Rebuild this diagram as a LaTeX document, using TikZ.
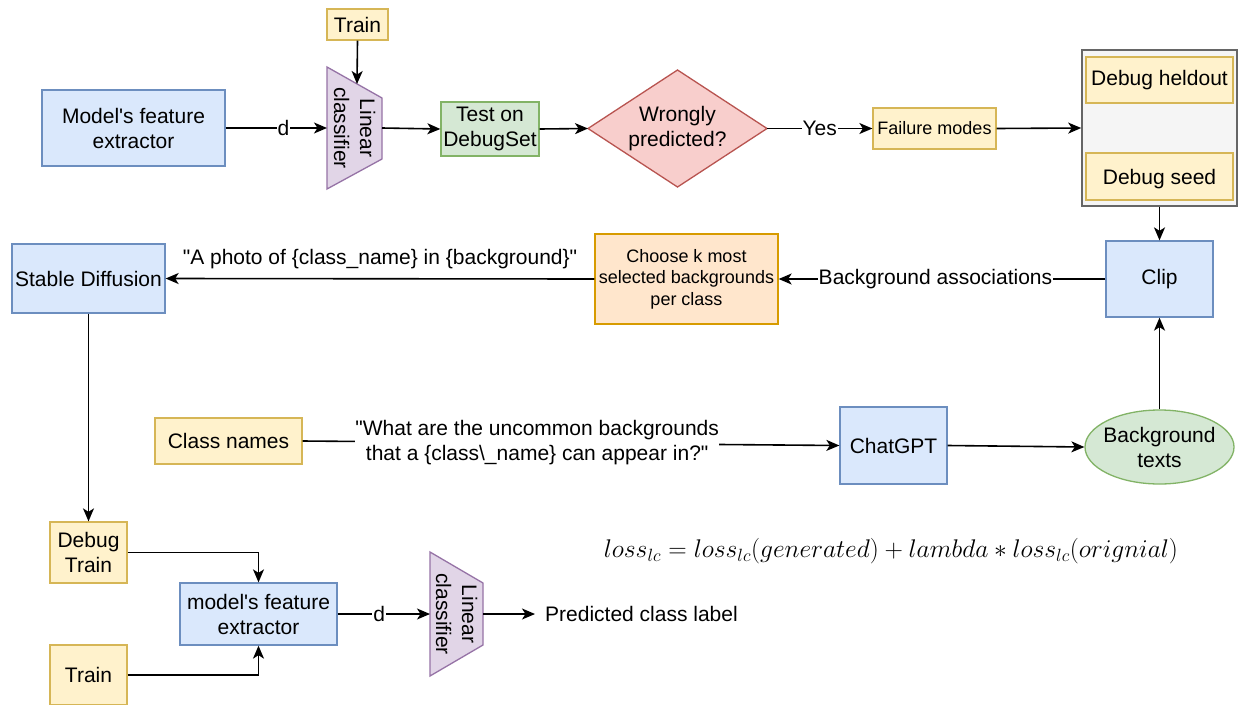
\documentclass[tikz,border=0pt]{standalone}
\usepackage{fontspec}
\setmainfont{Liberation Sans}[Ligatures=TeXOff]
\usepackage{graphicx}
\usetikzlibrary{arrows.meta,shapes.geometric}
\definecolor{bluef}{HTML}{DAE8FC}\definecolor{bluel}{HTML}{6C8EBF}
\definecolor{yelf}{HTML}{FFF2CC}\definecolor{yell}{HTML}{D6B656}
\definecolor{grnf}{HTML}{D5E8D4}\definecolor{grnl}{HTML}{82B366}
\definecolor{redf}{HTML}{F8CECC}\definecolor{redl}{HTML}{B85450}
\definecolor{purf}{HTML}{E1D5E7}\definecolor{purl}{HTML}{9673A6}
\definecolor{orf}{HTML}{FFE6CC}\definecolor{orl}{HTML}{D79B00}
\definecolor{grayf}{HTML}{F5F5F5}\definecolor{grayl}{HTML}{666666}
\begin{document}
\begin{tikzpicture}[x=1pt,y=-1pt,
 every node/.style={font=\fontsize{21}{25}\selectfont, inner sep=0pt, text=black},
 box/.style={draw, line width=1.3pt, align=center},
 bluebox/.style={box, fill=bluef, draw=bluel},
 yelbox/.style={box, fill=yelf, draw=yell},
 grnbox/.style={box, fill=grnf, draw=grnl},
 orbox/.style={box, fill=orf, draw=orl},
 graybox/.style={box, fill=grayf, draw=grayl, line width=1.6pt},
 redshape/.style={fill=redf, draw=redl, line width=1.3pt},
 purshape/.style={fill=purf, draw=purl, line width=1.3pt},
 small/.style={font=\fontsize{18}{21.5}\selectfont},
 conn/.style={line width=1.6pt, -{Stealth[length=13pt,width=11pt,inset=3.5pt]}},
 plain/.style={line width=1.6pt},
 lbl/.style={fill=white, inner sep=1pt}
]
\useasboundingbox (0,0) rectangle (1238,704);
\fill[white] (0,0) rectangle (1238,704);

% ---- top row ----
\node[bluebox, minimum width=183pt, minimum height=76pt] (fe1) at (133.5,128) {Model's feature\\extractor};
\node[yelbox, minimum width=61pt, minimum height=31pt] (train1) at (357.5,24.5) {Train};
\draw[purshape] (327,67) -- (382,98) -- (382,159) -- (327,189) -- cycle;
\node[rotate=-90, align=center, font=\fontsize{21}{26}\selectfont] (lc1) at (354.5,128) {Linear\\classifier};
\coordinate (lc1w) at (327,128);
\coordinate (lc1e) at (382,128);
\coordinate (lc1t) at (357,84);
\node[grnbox, minimum width=98pt, minimum height=54pt] (test) at (490,129) {Test on\\DebugSet};
\draw[redshape] (588,128.5) -- (677.5,70) -- (767,128.5) -- (677.5,187) -- cycle;
\node[align=center] (wrong) at (677.5,128.5) {Wrongly\\predicted?};
\coordinate (wrongw) at (588,128.5);
\coordinate (wronge) at (767,128.5);
\node[yelbox, small, minimum width=123pt, minimum height=41pt] (fail) at (934.5,128.5) {Failure modes};
\node[graybox, minimum width=155pt, minimum height=156pt] (cont) at (1159.5,128) {};
\node[yelbox, minimum width=147pt, minimum height=46pt] (held) at (1159.5,80) {Debug heldout};
\node[yelbox, minimum width=147pt, minimum height=47pt] (seed) at (1159.5,176.5) {};
\node (seedtext) at ([yshift=-3pt]seed.center) {Debug seed};

\draw[conn] (fe1.east) -- node[lbl, pos=0.57] {d} (lc1w);
\draw[conn] (train1.south) -- (lc1t);
\draw[conn] (lc1e) -- (test.west);
\draw[conn] (test.east) -- (wrongw);
\draw[conn] (wronge) -- node[lbl] {Yes} (fail.west);
\draw[conn] (fail.east) -- (cont.west);

% ---- second row ----
\node[bluebox, minimum width=107pt, minimum height=76pt] (clip) at (1159.5,279) {Clip};
\node[orbox, small, minimum width=183pt, minimum height=90pt] (choose) at (686.5,279) {Choose k most\\selected backgrounds\\per class};
\node[bluebox, minimum width=153pt, minimum height=69pt] (sd) at (88.5,278.5) {Stable Diffusion};

\draw[conn] (cont.south) -- (clip.north);
\draw[conn] (clip.west) -- node[lbl, pos=0.52] {Background associations} (choose.east);
\draw[conn] (choose.west) -- node[midway, yshift=20pt] {"A photo of \{class\_name\} in \{background\}"} (sd.east);

% ---- third row ----
\node[yelbox, minimum width=147pt, minimum height=46pt] (cls) at (228.5,441) {Class names};
\node[bluebox, minimum width=107pt, minimum height=77pt] (gpt) at (893.5,445.5) {ChatGPT};
\node[ellipse, draw=grnl, fill=grnf, line width=1.3pt, minimum width=149pt, minimum height=74pt] (bg) at (1159.5,447) {};
\node[align=center] (bgtext) at (bg.center) {Background\\texts};

\draw[conn] (cls.east) -- node[lbl, pos=0.437, align=center, inner sep=0pt] {"What are the uncommon backgrounds\\that a \{class\textbackslash\_name\} can appear in?"} (gpt.west);
\draw[conn] (gpt.east) -- (bg.west);
\draw[conn] (bg.north) -- (clip.south);

% ---- bottom ----
\node[yelbox, minimum width=77pt, minimum height=61pt] (dtrain) at (88.5,552.5) {Debug\\Train};
\node[bluebox, minimum width=157pt, minimum height=62pt] (fe2) at (258.5,614) {model's feature\\extractor};
\node[yelbox, minimum width=77pt, minimum height=60pt] (train2) at (88.5,675) {Train};
\draw[purshape] (430,552) -- (483,583) -- (483,645) -- (430,676) -- cycle;
\node[rotate=-90, align=center, font=\fontsize{21}{26}\selectfont] (lc2) at (456.5,614) {Linear\\classifier};
\coordinate (lc2w) at (430,614);
\coordinate (lc2e) at (483,614);
\node[anchor=west] (pred) at (545,614) {Predicted class label};
\coordinate (predw) at (535,614);

\draw[conn] (sd.south) -- (dtrain.north);
\draw[conn] (dtrain.east) -| (fe2.north);
\draw[conn] (train2.east) -| (fe2.south);
\draw[conn] (fe2.east) -- node[lbl, pos=0.45] {d} (lc2w);
\draw[conn] (lc2e) -- (predw);

\node (formula) at (891,551) {\resizebox{574pt}{!}{$loss_{lc} = loss_{lc}(generated) + lambda * loss_{lc}(orignial)$}};
\end{tikzpicture}
\end{document}
